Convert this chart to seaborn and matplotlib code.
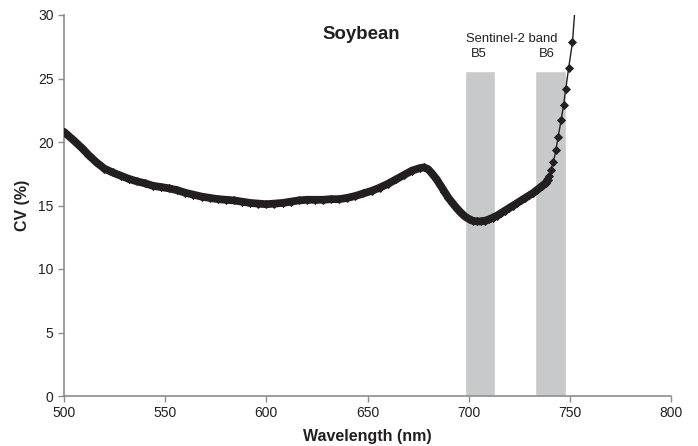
import matplotlib
matplotlib.use("Agg")
import matplotlib.pyplot as plt
import seaborn as sns
import pandas as pd

# ---- data ----
wavelength = [500, 505, 509, 512, 516, 520, 524, 528, 532, 536, 540, 544, 548, 552, 556,
              560, 564, 568, 572, 576, 580, 584, 588, 592, 596, 600, 604, 608, 612, 616,
              620, 624, 628, 632, 636, 640, 644, 648, 652, 656, 660, 664, 668, 672, 676,
              678, 680, 682, 684, 686, 688, 690, 692, 694, 696, 698, 700, 702, 704, 706,
              708, 710, 712, 714, 716, 718, 720, 722, 724, 726, 728, 730, 732, 734, 736,
              738, 739, 739.8, 740.6, 741.9, 743.1, 744.2, 745.7, 746.9, 748.0, 749.4,
              751.3, 753.0]
cv = [20.8, 20.1, 19.5, 19.0, 18.4, 17.9, 17.6, 17.35, 17.1, 16.9, 16.75, 16.55, 16.45, 16.35, 16.2,
      16.0, 15.85, 15.7, 15.6, 15.5, 15.45, 15.4, 15.3, 15.2, 15.15, 15.1, 15.15, 15.2, 15.3, 15.4,
      15.45, 15.45, 15.45, 15.5, 15.5, 15.6, 15.75, 15.95, 16.15, 16.4, 16.7, 17.05, 17.4, 17.75, 17.95,
      18.0, 17.85, 17.5, 17.1, 16.6, 16.1, 15.6, 15.2, 14.8, 14.45, 14.15, 13.95, 13.8, 13.75, 13.75,
      13.8, 13.9, 14.05, 14.2, 14.4, 14.6, 14.8, 15.0, 15.2, 15.4, 15.6, 15.8, 16.0, 16.25, 16.5,
      16.75, 17.0, 17.3, 17.8, 18.45, 19.35, 20.4, 21.7, 22.9, 24.2, 25.8,
      27.85, 31.5]
# wavelength up to which the measurements are so dense that the markers merge
dense_until = 739

band_names = ["B5", "B6"]
band_center = [705.5, 740.5]
band_width = [15, 15]
band_height = [25.6, 25.6]

x_ticks = [500, 550, 600, 650, 700, 750, 800]
y_ticks = [0, 5, 10, 15, 20, 25, 30]

title = "Soybean"
band_title = "Sentinel-2 band"
x_label = "Wavelength (nm)"
y_label = "CV (%)"

# ---- drawing ----
sns.set_theme(style="ticks")
plt.rcParams["font.family"] = ["Liberation Sans", "DejaVu Sans"]

ink = "#231f20"
fig = plt.figure(figsize=(6.98, 4.46), dpi=100)
ax = fig.add_axes([64 / 698, 1 - 396 / 446, (671 - 64) / 698, (396 - 15) / 446])

ax.bar(band_center, band_height, width=band_width, color="#c8c9cb", zorder=1)

df = pd.DataFrame({"wavelength": wavelength, "cv": cv})
dense = df[df["wavelength"] <= dense_until]

# merged markers of the densely sampled part
sns.lineplot(data=dense, x="wavelength", y="cv", ax=ax, color=ink, linewidth=5.6,
             sort=False, zorder=3, solid_capstyle="round", solid_joinstyle="round")
# full series with diamond markers
sns.lineplot(data=df, x="wavelength", y="cv", ax=ax, color=ink, linewidth=1.0,
             marker="D", markersize=3.8, markeredgewidth=0.6, markeredgecolor=ink,
             markerfacecolor=ink, sort=False, zorder=4)

ax.set_xlim(x_ticks[0], x_ticks[-1])
ax.set_ylim(y_ticks[0], y_ticks[-1])
ax.set_xticks(x_ticks)
ax.set_yticks(y_ticks)

for s in ["top", "right"]:
    ax.spines[s].set_visible(False)
for s in ["left", "bottom"]:
    ax.spines[s].set_color("#8c8c8c")
    ax.spines[s].set_linewidth(1.2)
ax.tick_params(axis="both", colors="#8c8c8c", length=4, width=1.0, labelsize=10,
               labelcolor=ink, direction="out")

ax.set_xlabel(x_label, fontsize=11.5, fontweight="bold", color=ink, labelpad=6)
ax.set_ylabel(y_label, fontsize=11.5, fontweight="bold", color=ink, labelpad=6)

ax.text(646.8, 28.45, title, fontsize=13.4, fontweight="bold", color=ink,
        ha="center", va="center")
ax.text(721.5, 28.1, band_title, fontsize=9.4, color=ink, ha="center", va="center")
for name, c in zip(band_names, band_center):
    ax.text(c - 0.5 if name == "B5" else c - 2.0, 26.9, name, fontsize=9.4, color=ink,
            ha="center", va="center")

fig.savefig("out.png", dpi=100)
